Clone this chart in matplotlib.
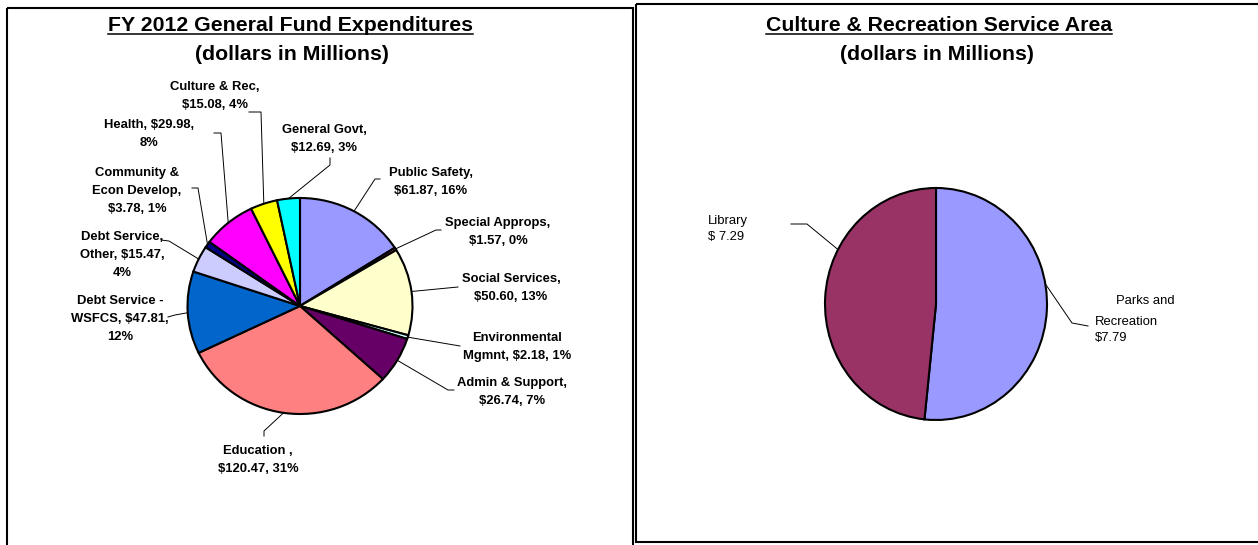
import math
import matplotlib
matplotlib.use('Agg')
import matplotlib.pyplot as plt
from matplotlib.patches import Rectangle

plt.rcParams['font.family'] = ['Liberation Sans', 'DejaVu Sans']

W, H = 1258, 545   # output size in pixels (dpi 100)

# ---- left chart: FY 2012 General Fund Expenditures ----
fund_names = ['Public Safety', 'Special Approps', 'Social Services',
              'Environmental\nMgmnt', 'Admin & Support', 'Education ',
              'Debt Service -\nWSFCS', 'Debt Service,\nOther',
              'Community &\nEcon Develop', 'Health', 'Culture & Rec',
              'General Govt']
fund_values = [61.87, 1.57, 50.60, 2.18, 26.74, 120.47, 47.81, 15.47,
               3.78, 29.98, 15.08, 12.69]
fund_colors = ['#9999FF', '#993366', '#FFFFCC', '#CCFFFF', '#660066',
               '#FF8080', '#0066CC', '#CCCCFF', '#000080', '#FF00FF',
               '#FFFF00', '#00FFFF']
# where Excel wrapped each label: after the name, after the amount
wrap_name = ['\n', '\n', '\n', ' ', '\n', '\n', ' ', ' ', '\n', ' ', '\n', '\n']
wrap_amt = [' ', ' ', ' ', ' ', ' ', ' ', '\n', '\n', ' ', '\n', ' ', ' ']

# ---- right chart: Culture & Recreation Service Area ----
cr_names = ['Parks and Recreation', 'Library']
cr_values = [7.79, 7.29]
cr_colors = ['#9999FF', '#993366']

# layout (pixels): label centre, leader points from label towards pie
fund_label_pos = [(431, 182), (498, 232), (511, 288), (517, 347), (512, 392),
                  (258, 460), (120, 319), (122, 255), (137, 191), (149, 134),
                  (215, 96), (324, 139)]
fund_leaders = [[(380, 179), (375, 179)], [(441, 230), (436, 230)], [(458, 287)],
                [(460, 346)], [(454, 390), (448, 390)], [(264, 436), (264, 431)],
                [(168, 317), (175, 315)], [(161, 240), (169, 241)],
                [(192, 188), (198, 188)], [(214, 133), (221, 133)],
                [(249, 112), (261, 112)], [(330, 158), (330, 165)]]

fig = plt.figure(figsize=(W / 100, H / 100), dpi=100)


def draw_pie(cx, cy, rx, ry, values, colors):
    pax = fig.add_axes([(cx - rx) / W, 1 - (cy + ry) / H, 2 * rx / W, 2 * ry / H])
    wedges, _ = pax.pie(values, colors=colors, startangle=90, counterclock=False,
                        wedgeprops=dict(edgecolor='black', linewidth=1.5))
    pax.set_xlim(-1, 1)
    pax.set_ylim(-1, 1)
    pax.set_aspect('auto')
    for w in wedges:
        w.set_clip_on(False)
    return wedges


def edge_point(cx, cy, rx, ry, ang):
    a = math.radians(ang)
    return cx + rx * math.cos(a), cy - ry * math.sin(a)


L_CX, L_CY, L_RX, L_RY = 300, 306, 112.5, 108
R_CX, R_CY, R_RX, R_RY = 936, 304, 111, 116
left_wedges = draw_pie(L_CX, L_CY, L_RX, L_RY, fund_values, fund_colors)
right_wedges = draw_pie(R_CX, R_CY, R_RX, R_RY, cr_values, cr_colors)

ov = fig.add_axes([0, 0, 1, 1])
ov.set_xlim(0, W)
ov.set_ylim(H, 0)
ov.axis('off')
ov.set_zorder(5)

# panel frames
ov.add_patch(Rectangle((7, 8), 626, 560, fill=False, lw=1.5, ec='black', clip_on=False))
ov.add_patch(Rectangle((635.5, 3.5), 640, 538.5, fill=False, lw=1.5, ec='black', clip_on=False))

# titles
titles = []
titles.append(ov.text(290, 31.3, 'FY 2012 General Fund Expenditures', ha='center',
                      va='baseline', fontsize=15.3, fontweight='bold'))
ov.text(292, 60, '(dollars in Millions)', ha='center', va='baseline',
        fontsize=15.3, fontweight='bold')
titles.append(ov.text(939, 30.6, 'Culture & Recreation Service Area', ha='center',
                      va='baseline', fontsize=15.3, fontweight='bold'))
ov.text(937, 59.8, '(dollars in Millions)', ha='center', va='baseline',
        fontsize=15.3, fontweight='bold')

# left data labels
total = sum(fund_values)
for i, w in enumerate(left_wedges):
    txt = '{},{}${:.2f},{}{:.0%}'.format(fund_names[i], wrap_name[i], fund_values[i],
                                          wrap_amt[i], fund_values[i] / total)
    x, y = fund_label_pos[i]
    ov.text(x, y, txt, ha='center', va='center', multialignment='center',
            fontsize=9.4, fontweight='bold', linespacing=1.65)
    ex, ey = edge_point(L_CX, L_CY, L_RX, L_RY, (w.theta1 + w.theta2) / 2)
    pts = fund_leaders[i] + [(ex, ey)]
    ov.plot([p[0] for p in pts], [p[1] for p in pts], color='black', lw=0.7)

# right data labels
ov.text(708, 229, 'Library\n$ {:.2f}'.format(cr_values[1]), ha='left', va='center',
        fontsize=9.4, linespacing=1.5)
park_words = cr_names[0].split(' ')
ov.text(1116, 301, ' '.join(park_words[:2]), ha='left', va='center', fontsize=9.4)
ov.text(1095, 330, '{}\n${:.2f}'.format(park_words[-1], cr_values[0]),
        ha='left', va='center', fontsize=9.4, linespacing=1.5)
for pts, ang in [([(791, 224), (807, 224)], 152), ([(1088, 326), (1072, 323)], 10)]:
    ex, ey = edge_point(R_CX, R_CY, R_RX, R_RY, ang)
    pts = pts + [(ex, ey)]
    ov.plot([p[0] for p in pts], [p[1] for p in pts], color='black', lw=0.7)

# underline the first title lines
fig.canvas.draw()
for t in titles:
    bb = t.get_window_extent()
    ov.plot([bb.x0, bb.x1], [33.8, 33.8], color='black', lw=1.1)

fig.savefig('out.png', dpi=100)
